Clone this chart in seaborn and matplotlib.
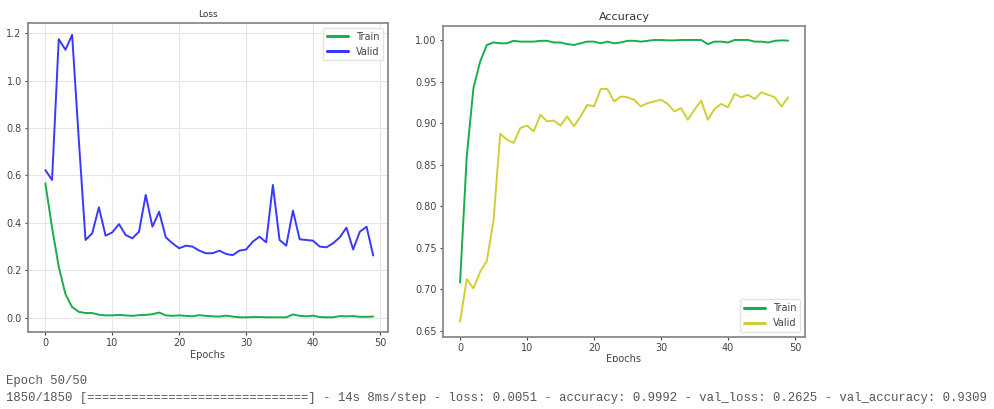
import numpy as np
import pandas as pd
import matplotlib
matplotlib.use("Agg")
import matplotlib.pyplot as plt
import seaborn as sns
from matplotlib.patches import Rectangle

epochs = list(range(50))

train_loss = [0.567, 0.38, 0.215, 0.10, 0.045, 0.025, 0.020, 0.020, 0.013, 0.010,
              0.010, 0.012, 0.010, 0.008, 0.011, 0.012, 0.015, 0.022, 0.010, 0.008,
              0.010, 0.008, 0.006, 0.011, 0.008, 0.006, 0.005, 0.009, 0.005, 0.002,
              0.002, 0.003, 0.003, 0.002, 0.002, 0.002, 0.002, 0.014, 0.008, 0.006,
              0.009, 0.003, 0.002, 0.002, 0.007, 0.006, 0.007, 0.004, 0.004, 0.0051]
valid_loss = [0.623, 0.581, 1.175, 1.13, 1.193, 0.75, 0.328, 0.356, 0.466, 0.346,
              0.360, 0.395, 0.349, 0.335, 0.363, 0.518, 0.384, 0.447, 0.339, 0.314,
              0.293, 0.304, 0.300, 0.283, 0.272, 0.272, 0.283, 0.269, 0.264, 0.283,
              0.288, 0.321, 0.342, 0.318, 0.560, 0.328, 0.304, 0.452, 0.331, 0.328,
              0.325, 0.300, 0.297, 0.314, 0.339, 0.380, 0.288, 0.363, 0.384, 0.2625]
train_acc = [0.708, 0.86, 0.942, 0.974, 0.994, 0.997, 0.996, 0.996, 0.999, 0.998,
             0.998, 0.998, 0.999, 0.999, 0.997, 0.997, 0.995, 0.994, 0.996, 0.998,
             0.998, 0.996, 0.998, 0.996, 0.997, 0.999, 0.999, 0.998, 0.999, 1.000,
             1.000, 0.9995, 0.9995, 1.000, 1.000, 1.000, 1.000, 0.995, 0.998, 0.998,
             0.997, 1.000, 1.000, 1.000, 0.998, 0.998, 0.997, 0.999, 0.9995, 0.9992]
valid_acc = [0.661, 0.712, 0.701, 0.721, 0.734, 0.783, 0.887, 0.880, 0.876, 0.894,
             0.897, 0.890, 0.910, 0.902, 0.903, 0.897, 0.908, 0.896, 0.908, 0.922,
             0.920, 0.941, 0.941, 0.926, 0.932, 0.931, 0.928, 0.920, 0.924, 0.926,
             0.928, 0.923, 0.914, 0.918, 0.904, 0.916, 0.927, 0.904, 0.917, 0.923,
             0.919, 0.935, 0.931, 0.934, 0.929, 0.937, 0.934, 0.931, 0.920, 0.9309]

series_labels = ["Train", "Valid"]
titles = ["Loss", "Accuracy"]
x_label = "Epochs"
log_line1 = "Epoch 50/50"
log_line2 = ("1850/1850 [==============================] - 14s 8ms/step - loss: 0.0051 "
             "- accuracy: 0.9992 - val_loss: 0.2625 - val_accuracy: 0.9309")

sns.set_style("ticks")
plt.rcParams['font.family'] = ['DejaVu Sans']

GREEN = "#1aad4b"
BLUE = "#3838ff"
YELLOW = "#cfcf35"
SPINE = "#8a8a8a"
TXT = "#444444"

fig = plt.figure(figsize=(9.95, 4.09), dpi=100)
ax1 = fig.add_axes([0.0281, 0.1883, 0.3618, 0.7555])
ax2 = fig.add_axes([0.4452, 0.1768, 0.3638, 0.7604])

sns.lineplot(x=epochs, y=train_loss, ax=ax1, color=GREEN, lw=1.4, label=series_labels[0])
sns.lineplot(x=epochs, y=valid_loss, ax=ax1, color=BLUE, lw=1.4, label=series_labels[1])
sns.lineplot(x=epochs, y=train_acc, ax=ax2, color=GREEN, lw=1.4, label=series_labels[0])
sns.lineplot(x=epochs, y=valid_acc, ax=ax2, color=YELLOW, lw=1.4, label=series_labels[1])

ax1.set_xlim(-2.6, 51.2)
ax1.set_ylim(-0.06, 1.243)
ax1.set_yticks([0.0, 0.2, 0.4, 0.6, 0.8, 1.0, 1.2])
ax1.set_xticks([0, 10, 20, 30, 40, 50])
ax1.grid(True, color="#e6e6e6", lw=0.8)
ax1.set_axisbelow(True)

ax2.set_xlim(-2.55, 51.5)
ax2.set_ylim(0.6428, 1.0172)
ax2.set_yticks([0.65, 0.70, 0.75, 0.80, 0.85, 0.90, 0.95, 1.00])
ax2.set_xticks([0, 10, 20, 30, 40, 50])
ax2.grid(False)

for ax, t, tsize in [(ax1, titles[0], 6.5), (ax2, titles[1], 8)]:
    ax.set_title(t, fontsize=tsize, color="#333333", pad=4)
    ax.set_xlabel(x_label, fontsize=7, color=TXT, labelpad=1)
    ax.set_ylabel("")
    for s in ax.spines.values():
        s.set_color(SPINE)
        s.set_linewidth(1.3)
    ax.tick_params(labelsize=7, colors=TXT, length=2.5, width=0.8, pad=2)
    for tl in ax.get_xticklabels() + ax.get_yticklabels():
        tl.set_color(TXT)

leg1 = ax1.legend(loc="upper right", fontsize=7, frameon=True, handlelength=2.2,
                  labelcolor=TXT)
leg2 = ax2.legend(loc="lower right", fontsize=7, frameon=True, handlelength=2.2,
                  labelcolor=TXT)
for lg in (leg1, leg2):
    lg.get_frame().set_edgecolor("#dddddd")
    for h in lg.get_lines():
        h.set_linewidth(2.2)

# mimic the cropped bottom of the screenshot
fig.patches.append(Rectangle((0, 0), 1, 1 - 361.5 / 409, transform=fig.transFigure,
                             facecolor="white", edgecolor="none", zorder=5))

fig.text(6 / 995, 1 - 381 / 409, log_line1, family="Liberation Mono", fontsize=8.8,
         color="#555555", va="center", ha="left", zorder=6)
fig.text(6 / 995, 1 - 398 / 409, log_line2, family="Liberation Mono", fontsize=8.8,
         color="#555555", va="center", ha="left", zorder=6)

fig.savefig("out.png", dpi=100)
